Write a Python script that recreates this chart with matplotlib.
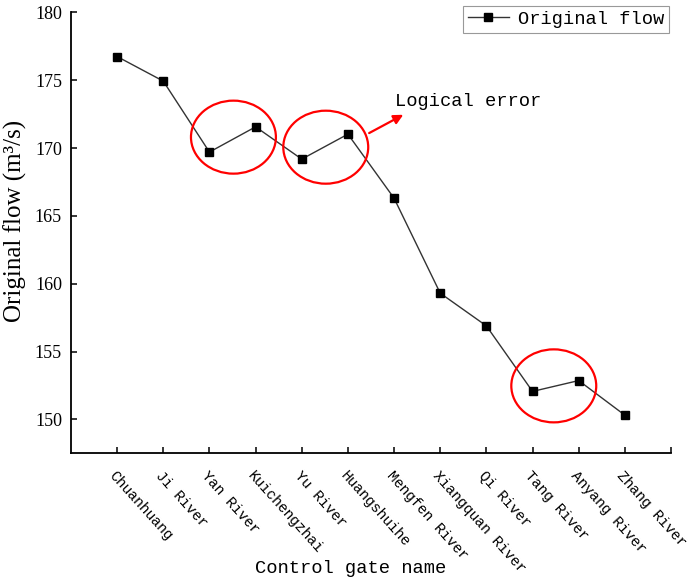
import matplotlib
matplotlib.use("Agg")
import matplotlib.pyplot as plt
from matplotlib.patches import Ellipse

# Control gates along the canal and their original flow (m3/s)
gates = ["Chuanhuang", "Ji River", "Yan River", "Kuichengzhai", "Yu River",
         "Huangshuihe", "Mengfen River", "Xiangquan River", "Qi River",
         "Tang River", "Anyang River", "Zhang River"]
flow = [176.74, 174.93, 169.70, 171.56, 169.18, 171.02,
        166.30, 159.30, 156.89, 152.06, 152.86, 150.31]

# Suspicious segments: (centre gate index, centre flow)
error_spots = [(2.52, 170.8), (4.52, 170.06), (9.46, 152.47)]

mono = "Liberation Mono"
serif = "Liberation Serif"

fig = plt.figure(figsize=(6.89, 5.81), dpi=100)
ax = fig.add_axes([0.1030, 0.2198, 0.8709, 0.7590])

x = list(range(len(gates)))
ax.plot(x, flow, color="#333333", linewidth=1.0, marker="s", markersize=5.5,
        markerfacecolor="black", markeredgecolor="black", label="Original flow")

# red rings around the bumps in the curve
for cx, cy in error_spots:
    ax.add_patch(Ellipse((cx, cy), width=1.84, height=5.38, fill=False,
                         edgecolor="#ff0000", linewidth=1.6, zorder=3))

ax.annotate("", xy=(6.20, 172.45), xytext=(5.46, 171.1),
            arrowprops=dict(arrowstyle="-|>", color="#ff0000", lw=1.6,
                            mutation_scale=14, shrinkA=0, shrinkB=0))
ax.text(6.02, 173.11, "Logical error", fontsize=13.5, family=mono,
        ha="left", va="baseline")

ax.set_xlim(-1, 12)
ax.set_ylim(147.5, 180)
ax.set_xticks(x + [12])
ax.set_xticklabels(gates + [""], fontsize=10.5, family=mono, rotation=-48,
                   ha="left", va="top", rotation_mode="anchor")
ax.set_yticks([150, 155, 160, 165, 170, 175, 180])
ax.set_yticklabels(["150", "155", "160", "165", "170", "175", "180"],
                   fontsize=13, family=serif)
ax.tick_params(axis="x", direction="in", length=4.5, width=1.1, pad=11)
ax.tick_params(axis="y", direction="in", length=4.5, width=1.1, pad=6.5)

for side in ["top", "right"]:
    ax.spines[side].set_visible(False)
for side in ["left", "bottom"]:
    ax.spines[side].set_linewidth(1.3)

fig.text(351 / 689, 1 - 573 / 581, "Control gate name", fontsize=13.5,
         family=mono, ha="center", va="baseline")
fig.text(15.5 / 689, 1 - 221 / 581, "Original flow (m³/s)", fontsize=18,
         family=serif, rotation=90, ha="center", va="center")

leg = ax.legend(loc="upper right", bbox_to_anchor=(0.997, 1.014),
                borderaxespad=0, fancybox=False, handlelength=2.2,
                handletextpad=0.5, borderpad=0.25,
                prop={"family": mono, "size": 13.5})
leg.get_frame().set_edgecolor("#808080")
leg.get_frame().set_linewidth(0.8)

fig.savefig("out.png", dpi=100)
